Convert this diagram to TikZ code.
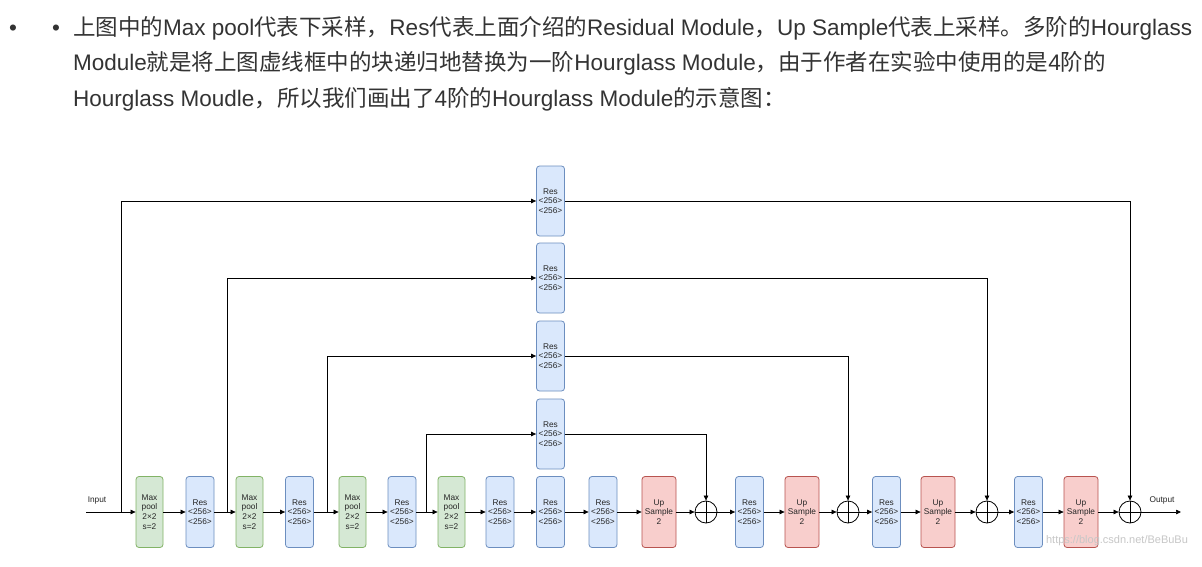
\documentclass[tikz,border=0pt]{standalone}
\usepackage{fontspec}
\setmainfont{Liberation Sans}
\newfontfamily\cjk{Noto Sans CJK SC}
\usetikzlibrary{arrows.meta}
\definecolor{poolfill}{HTML}{D5E8D4}\definecolor{poolline}{HTML}{82B366}
\definecolor{resfill}{HTML}{DAE8FC}\definecolor{resline}{HTML}{6C8EBF}
\definecolor{upfill}{HTML}{F8CECC}\definecolor{upline}{HTML}{B85450}
\definecolor{txt}{HTML}{333333}
\newcommand\zh[1]{{\cjk #1}}
\begin{document}
\begin{tikzpicture}[x=1pt,y=-1pt,
  blk/.style={draw, rounded corners=3pt, line width=0.8pt, inner sep=0pt, minimum height=71pt, align=center, font=\fontsize{8.3}{9.8}\selectfont, text=black!85},
  pool/.style={blk, fill=poolfill, draw=poolline, minimum width=27pt},
  res/.style={blk, fill=resfill, draw=resline, minimum width=28pt},
  up/.style={blk, fill=upfill, draw=upline, minimum width=34pt},
  sumnode/.style={circle, draw=black, line width=0.8pt, minimum size=22pt, inner sep=0pt,
    path picture={\draw[line width=0.8pt] (path picture bounding box.north) -- (path picture bounding box.south) (path picture bounding box.west) -- (path picture bounding box.east);}},
  arr/.style={-{Triangle[length=5pt,width=4.5pt]}, line width=0.7pt},
  lbl/.style={font=\fontsize{8.3}{9}\selectfont, text=black!85, inner sep=0pt},
  para/.style={anchor=base west, inner sep=0pt, font=\fontsize{22.5}{22.5}\selectfont, text=txt}]
\useasboundingbox (0,0) rectangle (1202,567);
\fill[white] (0,0) rectangle (1202,567);
% paragraph
\node[para] (bul1) at (9,36) {•};
\node[para] (bul2) at (52,36) {•};
\node[para] (l1) at (73,36) {\zh{上图中的}Max pool\zh{代表下采样，}Res\zh{代表上面介绍的}Residual Module\zh{，}Up Sample\zh{代表上采样。多阶的}Hourglass};
\node[para] (l2) at (73,71) {Module\zh{就是将上图虚线框中的块递归地替换为一阶}Hourglass Module\zh{，由于作者在实验中使用的是}4\zh{阶的}};
\node[para] (l3) at (73,107) {Hourglass Moudle\zh{，所以我们画出了}4\zh{阶的}Hourglass Module\zh{的示意图：}};
% top skip Res
\node[res, minimum height=70pt] (t1) at (550.5,201) {Res\\<256>\\<256>};
\node[res, minimum height=70pt] (t2) at (550.5,278) {Res\\<256>\\<256>};
\node[res, minimum height=70pt] (t3) at (550.5,356) {Res\\<256>\\<256>};
\node[res, minimum height=70pt] (t4) at (550.5,434) {Res\\<256>\\<256>};
% main row
\node[pool] (p1) at (149.5,512) {Max\\pool\\2×2\\s=2};
\node[res] (r1) at (200,512) {Res\\<256>\\<256>};
\node[pool] (p2) at (249.5,512) {Max\\pool\\2×2\\s=2};
\node[res] (r2) at (299.5,512) {Res\\<256>\\<256>};
\node[pool] (p3) at (352.5,512) {Max\\pool\\2×2\\s=2};
\node[res] (r3) at (402,512) {Res\\<256>\\<256>};
\node[pool] (p4) at (451.5,512) {Max\\pool\\2×2\\s=2};
\node[res] (r4) at (500,512) {Res\\<256>\\<256>};
\node[res] (r5) at (550.5,512) {Res\\<256>\\<256>};
\node[res] (r6) at (603,512) {Res\\<256>\\<256>};
\node[up] (u1) at (659,512) {Up\\Sample\\2};
\node[sumnode] (c1) at (706,512) {};
\node[res] (r7) at (749.5,512) {Res\\<256>\\<256>};
\node[up] (u2) at (802,512) {Up\\Sample\\2};
\node[sumnode] (c2) at (848,512) {};
\node[res] (r8) at (886.5,512) {Res\\<256>\\<256>};
\node[up] (u3) at (938,512) {Up\\Sample\\2};
\node[sumnode] (c3) at (987,512) {};
\node[res] (r9) at (1028.5,512) {Res\\<256>\\<256>};
\node[up] (u4) at (1081,512) {Up\\Sample\\2};
\node[sumnode] (c4) at (1130,512) {};
% labels
\coordinate (in) at (86,512);
\coordinate (out) at (1181,512);
\node[lbl] (inl) at (97,501) {Input};
\node[lbl] (outl) at (1162,500) {Output};
\node[font=\fontsize{11}{11}\selectfont, text=black!22, inner sep=0pt] (wm) at (1117,541) {https://blog.csdn.net/BeBuBu};
% chain
\draw[arr] (in) -- (p1);
\foreach \a/\b in {p1/r1,r1/p2,p2/r2,r2/p3,p3/r3,r3/p4,p4/r4,r4/r5,r5/r6,r6/u1,u1/c1,c1/r7,r7/u2,u2/c2,c2/r8,r8/u3,u3/c3,c3/r9,r9/u4,u4/c4}
  \draw[arr] (\a) -- (\b);
\draw[arr] (c4) -- (out);
% skips
\coordinate (b1) at (121,512);
\coordinate (b2) at (227,512);
\coordinate (b3) at (327,512);
\coordinate (b4) at (426,512);
\draw[arr] (b1) |- (t1.west);
\draw[arr] (b2) |- (t2.west);
\draw[arr] (b3) |- (t3.west);
\draw[arr] (b4) |- (t4.west);
\draw[arr] (t1.east) -| (c4.north);
\draw[arr] (t2.east) -| (c3.north);
\draw[arr] (t3.east) -| (c2.north);
\draw[arr] (t4.east) -| (c1.north);
\end{tikzpicture}
\end{document}
